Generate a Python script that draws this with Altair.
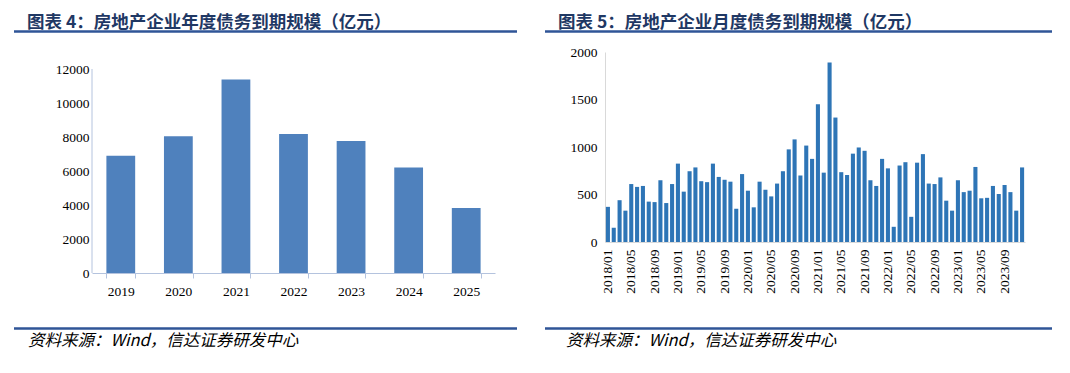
import altair as alt
import pandas as pd

# ---------------- data ----------------
years = ["2019", "2020", "2021", "2022", "2023", "2024", "2025"]
annual_debt = [6900, 8050, 11380, 8180, 7770, 6200, 3830]

months = [f"{y}/{m:02d}" for y in range(2018, 2024) for m in range(1, 13)]
monthly_debt = [
    370, 150, 440, 330, 610, 580, 590, 425, 420, 650, 410, 610,      # 2018
    825, 530, 745, 785, 640, 630, 825, 685, 655, 635, 350, 715,      # 2019
    540, 365, 635, 550, 480, 615, 745, 975, 1080, 700, 1015, 875,    # 2020
    1450, 730, 1890, 1310, 735, 705, 930, 995, 960, 650, 590, 875,   # 2021
    775, 160, 805, 840, 265, 835, 925, 615, 610, 680, 435, 330,      # 2022
    650, 525, 540, 790, 460, 465, 590, 505, 600, 525, 330, 785,      # 2023
]
month_ticks = ["2018/01", "2018/05", "2018/09", "2019/01", "2019/05", "2019/09",
               "2020/01", "2020/05", "2020/09", "2021/01", "2021/05", "2021/09",
               "2022/01", "2022/05", "2022/09", "2023/01", "2023/05", "2023/09"]
left_y_ticks = [0, 2000, 4000, 6000, 8000, 10000, 12000]
right_y_ticks = [0, 500, 1000, 1500, 2000]

title_left = "图表 4：房地产企业年度债务到期规模（亿元）"
title_right = "图表 5：房地产企业月度债务到期规模（亿元）"
source_text = "资料来源：Wind，信达证券研发中心"

df_a = pd.DataFrame({"year": years, "value": annual_debt})
df_m = pd.DataFrame({"month": months, "value": monthly_debt})
df_axis = pd.DataFrame({"value": [left_y_ticks[0]], "hi": [left_y_ticks[-1]]})
one = pd.DataFrame({"a": [0]})

LINE_COLOR = "#2F5597"
TITLE_COLOR = "#1F3864"
SERIF = "Liberation Serif"
CJK = "Noto Sans CJK SC"

LW, LH = 403, 221
RW, RH = 420, 190


def decorations(title, x0, x1, tx, sx):
    base = alt.Chart(one)
    layers = []
    for yv in (-20.5, 276.5):
        layers.append(
            base.mark_rule(color=LINE_COLOR, strokeWidth=2.5).encode(
                x=alt.value(x0), x2=alt.value(x1), y=alt.value(yv)
            )
        )
    layers.append(
        base.mark_text(text=title, font=CJK, fontSize=17.5, fontWeight="bold",
                       color=TITLE_COLOR, align="left", baseline="alphabetic").encode(
            x=alt.value(tx), y=alt.value(-24)
        )
    )
    layers.append(
        base.mark_text(text=source_text, font=CJK, fontSize=16.5, fontStyle="italic",
                       color="black", align="left", baseline="middle").encode(
            x=alt.value(sx), y=alt.value(289)
        )
    )
    return layers


# ---------------- left panel ----------------
L_AXIS = "#B4C3DE"
left_y_axis = alt.Axis(values=left_y_ticks, format="d", labelOverlap=False,
                       domain=False, grid=False, ticks=False, tickCount=7,
                       labelFont=SERIF, labelFontSize=13.5, labelColor="black",
                       labelPadding=3)
left_y_scale = alt.Scale(domain=[0, 13000], nice=False)
bars_l = alt.Chart(df_a).mark_bar(color="#4F81BD").encode(
    x=alt.X("year:N", sort=years, title=None,
            scale=alt.Scale(paddingInner=0.5, paddingOuter=0.25),
            axis=alt.Axis(labelAngle=0, tickBand="extent", ticks=True, tickSize=5,
                          tickColor=L_AXIS, domainColor=L_AXIS, labelFont=SERIF,
                          labelFontSize=13.5, labelColor="black", labelPadding=6)),
    y=alt.Y("value:Q", title=None, scale=left_y_scale, axis=left_y_axis),
)
yaxis_l = alt.Chart(df_axis).mark_rule(color=L_AXIS).encode(
    x=alt.value(0),
    y=alt.Y("value:Q", title=None, scale=left_y_scale, axis=left_y_axis),
    y2="hi:Q",
)
anchor = alt.Chart(one).mark_rule(opacity=0).encode(
    x=alt.value(-84), x2=alt.value(-83), y=alt.value(-44)
)
left = alt.layer(bars_l, yaxis_l, anchor,
                 *decorations(title_left, -78, 425, -65, -64)).properties(width=LW, height=LH)

# ---------------- right panel ----------------
R_AXIS = "#D9D9D9"
bars_r = alt.Chart(df_m).mark_bar(color="#2E75B6").encode(
    x=alt.X("month:N", sort=months, title=None,
            scale=alt.Scale(paddingInner=0.3, paddingOuter=0.15),
            axis=alt.Axis(values=month_ticks, labelAngle=270, ticks=False,
                          domainColor=R_AXIS, labelFont=SERIF, labelFontSize=13.5,
                          labelColor="black", labelPadding=7)),
    y=alt.Y("value:Q", title=None, scale=alt.Scale(domain=[0, 2000], nice=False),
            axis=alt.Axis(values=right_y_ticks, format="d", labelOverlap=False,
                          domainColor=R_AXIS, grid=False,
                          ticks=False, labelFont=SERIF, labelFontSize=13.5,
                          labelColor="black", labelPadding=8)),
)
right = alt.layer(bars_r, *decorations(title_right, -60, 447, -47, -39)).properties(
    width=RW, height=RH)

chart = alt.hconcat(left, right, spacing=110).properties(
    bounds="flush", padding=0, background="white"
).configure_view(stroke=None).configure_axis(labelOverlap=False)

chart.save("out.html", embed_options={"renderer": "svg", "actions": False})
